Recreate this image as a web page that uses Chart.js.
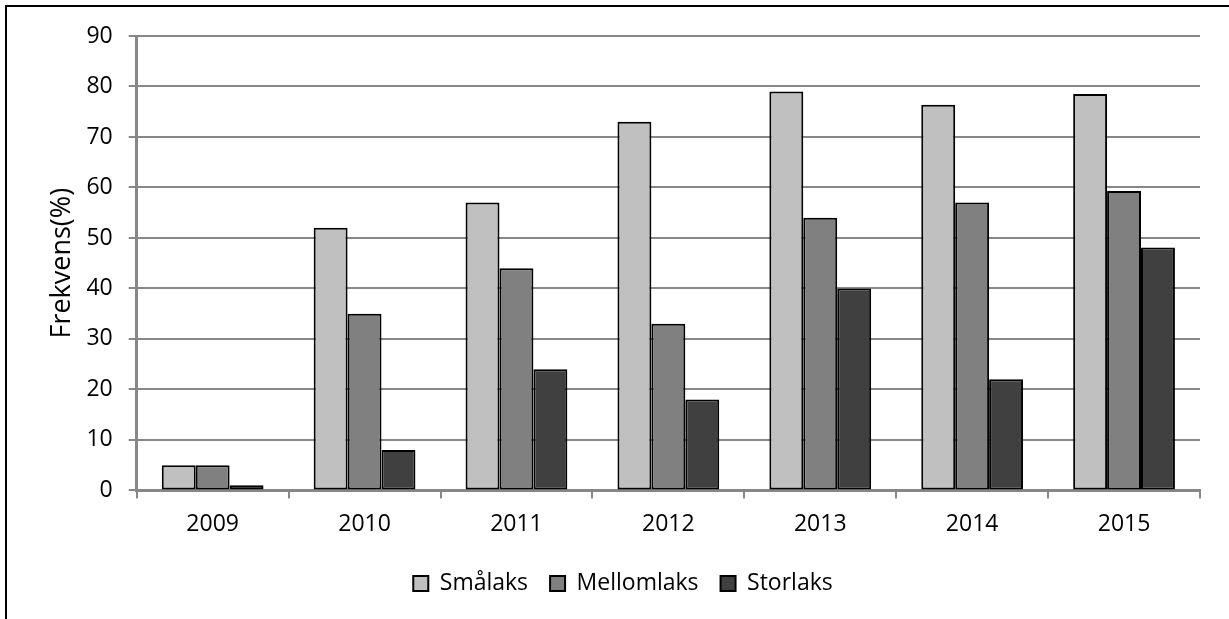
<!DOCTYPE html>
<html>
<head>
<meta charset="utf-8">
<script src="https://cdn.jsdelivr.net/npm/chart.js@4"></script>
<style>
  html, body { margin: 0; padding: 0; background: #fff; }
  #wrap { position: relative; width: 1229px; height: 619px; }
  #frame {
    position: absolute; left: 5px; top: 5px; right: -10px; bottom: -10px;
    border-left: 2px solid #000; border-top: 2px solid #000;
    pointer-events: none;
  }
</style>
</head>
<body>
<div id="wrap">
  <canvas id="chart" width="1229" height="619"></canvas>
  <div id="frame"></div>
</div>
<script>
const years = ['2009', '2010', '2011', '2012', '2013', '2014', '2015']
const smalaks = [5, 52, 57, 73, 79, 76.4, 78.5]
const mellomlaks = [5, 35, 44, 33, 54, 57, 59.3]
const storlaks = [1, 8, 24, 18, 40, 22, 48.1]
const yTicks = [0, 10, 20, 30, 40, 50, 60, 70, 80, 90]

const fontFamily = "'Open Sans', 'Noto Sans', sans-serif"
const fontSize = 23
const gridColor = '#878787'

const makeSeries = (label, data, color) => ({
  label,
  data,
  backgroundColor: color,
  borderColor: '#000',
  borderWidth: 2,
  borderSkipped: false,
  categoryPercentage: 0.67,
  barPercentage: 1,
})

new Chart(document.getElementById('chart'), {
  type: 'bar',
  data: {
    labels: years,
    datasets: [
      makeSeries('Smålaks', smalaks, '#c0c0c0'),
      makeSeries('Mellomlaks', mellomlaks, '#808080'),
      makeSeries('Storlaks', storlaks, '#404040'),
    ],
  },
  options: {
    responsive: false,
    animation: false,
    layout: {
      padding: { left: 46, right: 29, top: 36, bottom: 14 },
    },
    plugins: {
      tooltip: { enabled: false },
      legend: {
        position: 'bottom',
        labels: {
          color: '#000',
          font: { family: fontFamily, size: fontSize },
          boxWidth: 15,
          boxHeight: 15,
          padding: 22,
          useBorderRadius: false,
        },
      },
    },
    scales: {
      x: {
        grid: {
          drawOnChartArea: false,
          drawTicks: true,
          tickLength: 8,
          color: gridColor,
          lineWidth: 2,
        },
        border: { color: gridColor, width: 3 },
        ticks: {
          color: '#000',
          font: { family: fontFamily, size: fontSize },
          padding: 12,
        },
      },
      y: {
        min: 0,
        max: 90,
        afterBuildTicks: (axis) => {
          axis.ticks = yTicks.map((v) => ({ value: v }))
        },
        grid: {
          color: gridColor,
          lineWidth: 2,
          tickLength: 8,
        },
        border: { color: gridColor, width: 3 },
        ticks: {
          color: '#000',
          font: { family: fontFamily, size: fontSize },
          padding: 16,
        },
        title: {
          display: true,
          text: 'Frekvens(%)',
          color: '#000',
          font: { family: fontFamily, size: 27 },
          padding: { top: 0, bottom: -8 },
        },
      },
    },
  },
})
</script>
</body>
</html>
